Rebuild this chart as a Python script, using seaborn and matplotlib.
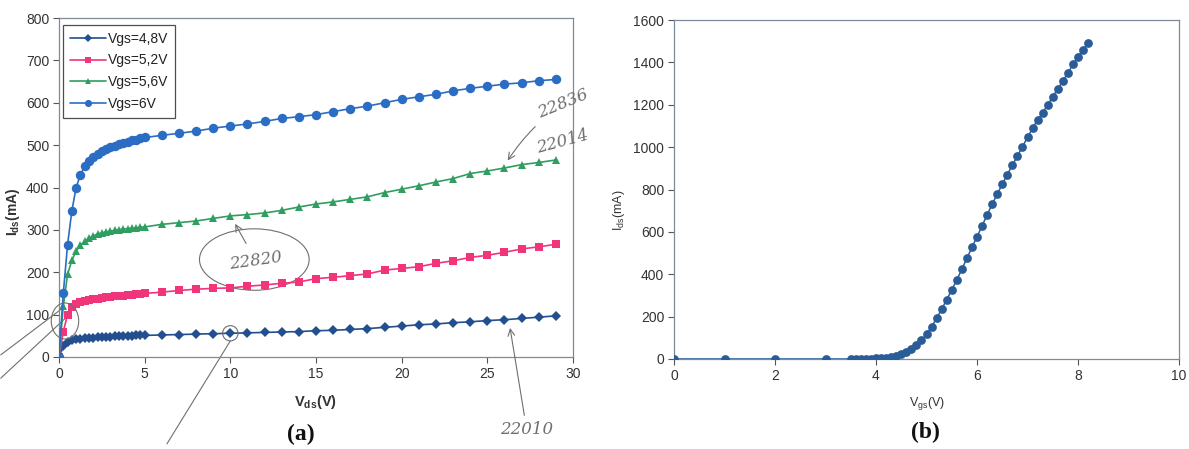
import numpy as np
import pandas as pd
import matplotlib
matplotlib.use("Agg")
import matplotlib.pyplot as plt
from matplotlib.patches import Ellipse
import seaborn as sns

# ---- (a) output characteristics: Ids vs Vds for four gate voltages ----
vds = [0, 0.25, 0.5, 0.75, 1.0, 1.25, 1.5, 1.75, 2.0, 2.25, 2.5, 2.75, 3.0,
       3.25, 3.5, 3.75, 4.0, 4.25, 4.5, 4.75, 5.0,
       6, 7, 8, 9, 10, 11, 12, 13, 14, 15, 16, 17, 18, 19, 20,
       21, 22, 23, 24, 25, 26, 27, 28, 29]

ids_48 = [0, 25, 35, 39, 42, 43, 44, 45, 46, 47, 47, 48, 48,
          49, 49, 50, 50, 50, 51, 51, 51,
          52, 53, 54, 55, 56, 57, 58, 59, 60, 62, 63, 65, 67, 70, 73,
          76, 78, 81, 83, 86, 88, 91, 94, 97]

ids_52 = [0, 60, 100, 118, 125, 129, 132, 134, 136, 138, 139, 141, 142,
          143, 144, 145, 146, 147, 148, 149, 150,
          153, 157, 160, 162, 163, 167, 170, 174, 177, 185, 188, 192, 196, 205, 209,
          213, 221, 227, 235, 240, 247, 255, 260, 266]

ids_56 = [0, 120, 195, 228, 250, 264, 273, 280, 286, 290, 293, 295, 297,
          299, 300, 302, 303, 304, 305, 306, 307,
          313, 317, 321, 327, 333, 336, 340, 346, 354, 361, 366, 372, 378, 388, 396,
          404, 413, 421, 433, 439, 446, 454, 459, 465]

ids_60 = [0, 150, 265, 345, 400, 430, 450, 463, 472, 480, 486, 491, 495,
          499, 502, 505, 508, 511, 513, 516, 518,
          523, 528, 533, 540, 545, 550, 556, 563, 567, 572, 579, 586, 592, 600, 608,
          614, 620, 628, 634, 639, 644, 647, 652, 655]

series_labels = ["Vgs=4,8V", "Vgs=5,2V", "Vgs=5,6V", "Vgs=6V"]

# ---- (b) transfer characteristic: Ids vs Vgs ----
vgs = [0, 1, 2, 3, 3.5, 3.6, 3.7, 3.8, 3.9, 4.0, 4.1, 4.2, 4.3, 4.4, 4.5,
       4.6, 4.7, 4.8, 4.9, 5.0, 5.1, 5.2, 5.3, 5.4, 5.5, 5.6, 5.7, 5.8,
       5.9, 6.0, 6.1, 6.2, 6.3, 6.4, 6.5, 6.6, 6.7, 6.8, 6.9, 7.0, 7.1,
       7.2, 7.3, 7.4, 7.5, 7.6, 7.7, 7.8, 7.9, 8.0, 8.1, 8.2]
ids_t = [0, 0, 0, 0, 0, 0.5, 1, 1.5, 2, 3, 5, 7, 11, 16, 24,
         35, 48, 65, 88, 118, 152, 192, 235, 280, 326, 373, 424, 475,
         527, 577, 628, 680, 730, 778, 825, 870, 915, 958, 1002, 1046, 1089,
         1128, 1162, 1200, 1238, 1275, 1312, 1350, 1390, 1427, 1460, 1490]

sns.set_theme(style="white")
plt.rcParams["font.family"] = ["Liberation Sans", "DejaVu Sans"]

W, H = 1189, 449
fig = plt.figure(figsize=(W / 100, H / 100), dpi=100)
fig.patch.set_facecolor("white")

def box(x0, x1, y0, y1):
    return [x0 / W, 1 - y1 / H, (x1 - x0) / W, (y1 - y0) / H]

ax1 = fig.add_axes(box(59, 573, 18, 357))
ax2 = fig.add_axes(box(674, 1179, 20, 359))

spine_col = "#7d8a99"
for ax in (ax1, ax2):
    for s in ax.spines.values():
        s.set_color(spine_col)
        s.set_linewidth(0.9)
    ax.tick_params(axis="both", which="major", direction="out", length=4,
                   width=0.8, color="#555555", labelsize=10, labelcolor="#333333",
                   pad=3, left=True, bottom=True)

# output curves
df_a = pd.DataFrame({"Vds": vds * 4,
                     "Ids": ids_48 + ids_52 + ids_56 + ids_60,
                     "Vgs": sum([[lab] * len(vds) for lab in series_labels], [])})
colors = ["#234f8e", "#f0357b", "#2f9e60", "#2b6dc2"]
markers = ["D", "s", "^", "o"]
msizes = [5.0, 5.5, 6.0, 6.8]
for lab, c, m, ms in zip(series_labels, colors, markers, msizes):
    sub = df_a[df_a["Vgs"] == lab]
    sns.lineplot(data=sub, x="Vds", y="Ids", ax=ax1, color=c, marker=m,
                 markersize=ms, markeredgewidth=0, linewidth=1.2, label=lab,
                 sort=False, zorder=3)

ax1.set_xlim(0, 30)
ax1.set_ylim(0, 800)
ax1.set_xticks(range(0, 31, 5))
ax1.set_yticks(range(0, 801, 100))
ax1.set_xlabel(r"V$_{\mathregular{ds}}$(V)", fontsize=10.5, fontweight="bold",
               color="#333333")
ax1.set_ylabel(r"I$_{\mathregular{ds}}$(mA)", fontsize=10, fontweight="bold",
               color="#333333")
ax1.xaxis.set_label_coords(0.5, -0.105)
ax1.yaxis.set_label_coords(-0.072, 0.43)

leg = ax1.legend(loc="upper left", bbox_to_anchor=(0.008, 0.98),
                 borderaxespad=0, fontsize=10,
                 frameon=True, fancybox=False, handlelength=2.6,
                 handletextpad=0.1, borderpad=0.5, labelspacing=0.55,
                 markerscale=0.75)
leg.get_frame().set_edgecolor("#222222")
leg.get_frame().set_linewidth(0.9)
for t in leg.get_texts():
    t.set_color("#222222")

# transfer curve
df_b = pd.DataFrame({"Vgs": vgs, "Ids": ids_t})
sns.lineplot(data=df_b, x="Vgs", y="Ids", ax=ax2, color="#2a5c97", marker="o",
             markersize=6.3, markeredgewidth=0, linewidth=1.1, sort=False,
             zorder=3)
ax2.set_xlim(0, 10)
ax2.set_ylim(0, 1600)
ax2.set_xticks(range(0, 11, 2))
ax2.set_yticks(range(0, 1601, 200))
ax2.set_xlabel(r"V$_{\mathregular{gs}}$(V)", fontsize=9, color="#333333")
ax2.set_ylabel(r"I$_{\mathregular{ds}}$(mA)", fontsize=9, color="#333333")
ax2.xaxis.set_label_coords(0.5, -0.105)
ax2.yaxis.set_label_coords(-0.094, 0.44)

# panel tags
fig.text(301 / W, 1 - 434 / H, "(a)", fontsize=17, fontweight="bold",
         family="Liberation Serif", ha="center", va="center", color="#111111")
fig.text(925 / W, 1 - 432 / H, "(b)", fontsize=17, fontweight="bold",
         family="Liberation Serif", ha="center", va="center", color="#111111")

# pencil notes on panel (a)
pen = "#6f6f6f"
note_kw = dict(color=pen, fontsize=12, family="DejaVu Serif", style="italic",
               ha="center", va="center", annotation_clip=False)
arrow_kw = dict(arrowstyle="->", color=pen, lw=0.8)
ax1.annotate("22820", xy=(10.2, 320), xytext=(11.5, 226),
             arrowprops=arrow_kw, rotation=8, **note_kw)
ax1.add_patch(Ellipse((11.4, 230), 6.4, 145, fill=False, ec=pen, lw=0.8,
                      clip_on=False))
ax1.annotate("22836", xy=(26.1, 458), xytext=(29.4, 598),
             arrowprops=dict(arrowstyle="->", color=pen, lw=0.8,
                             connectionstyle="arc3,rad=0.1"),
             rotation=22, **note_kw)
ax1.annotate("22014", xy=(29.4, 507), xytext=(29.4, 507), rotation=15,
             **note_kw)
ax1.annotate("22010", xy=(26.3, 75), xytext=(27.3, -172),
             arrowprops=arrow_kw, **note_kw)
ax1.add_patch(Ellipse((10.0, 56), 0.9, 36, fill=False, ec=pen, lw=0.8,
                      zorder=4))
ax1.plot([10.0, 6.3], [38, -205], color=pen, lw=0.8, clip_on=False)
ax1.add_patch(Ellipse((0.35, 85), 1.6, 85, fill=False, ec=pen, lw=0.8,
                      clip_on=False, zorder=4))
ax1.plot([0.6, -3.4], [100, -50], color=pen, lw=0.8, clip_on=False)
ax1.plot([0.2, -3.4], [115, 5], color=pen, lw=0.8, clip_on=False)

fig.savefig("out.png", dpi=100, facecolor="white")
